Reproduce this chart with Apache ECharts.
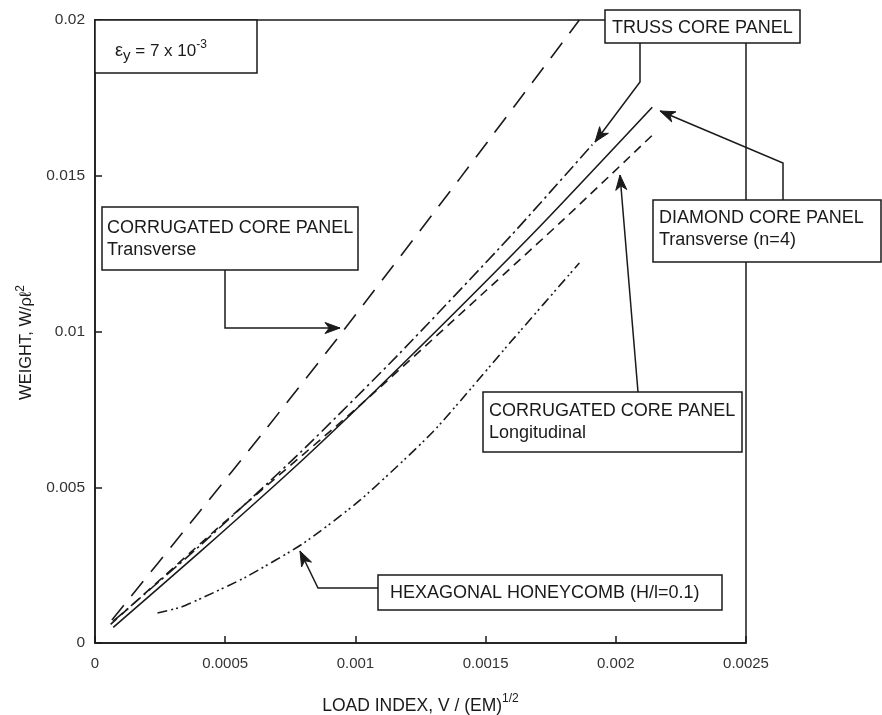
<!DOCTYPE html>
<html>
<head>
<meta charset="utf-8">
<script src="https://cdn.jsdelivr.net/npm/echarts@6/dist/echarts.min.js"></script>
<style>
html,body{margin:0;padding:0;background:#fff;}
#chart{width:882px;height:715px;}
</style>
</head>
<body>
<div id="chart"></div>
<script>
// ---- data (x = load index, y = weight) ----
const xTicks = [0, 0.0005, 0.001, 0.0015, 0.002, 0.0025];
const yTicks = [0, 0.005, 0.01, 0.015, 0.02];

const corrTransverse = [[0.000065,0.00074],[0.0004,0.0042],[0.00065,0.0068],[0.00094,0.00988],[0.0014,0.0149],[0.00186,0.0200]];
const trussCore = [[0.00007,0.0007],[0.0004,0.0031],[0.00079,0.00613],[0.00117,0.0093],[0.0016,0.0131],[0.00191,0.0160]];
const diamondCore = [[0.00007,0.0005],[0.0004,0.0029],[0.0008,0.0059],[0.00117,0.00886],[0.0017,0.0133],[0.00214,0.0172]];
const corrLongitudinal = [[0.00006,0.0006],[0.0005,0.0039],[0.001,0.0075],[0.0015,0.0113],[0.0018,0.0136],[0.00214,0.0163]];
const honeycomb = [[0.00024,0.00096],[0.00033,0.00115],[0.00042,0.00148],[0.00058,0.00212],[0.0008,0.0032],[0.00102,0.0046],[0.0013,0.0068],[0.0016,0.0097],[0.00186,0.0122]];

const chart = echarts.init(document.getElementById('chart'), null, {renderer:'canvas'});
const FONT = '"Liberation Sans", Arial, Helvetica, sans-serif';
const INK = '#1a1a1a';

function lineSeries(name, data, dash){
  return {
    name: name, type: 'line', data: data, showSymbol: false, smooth: 0.2,
    lineStyle: {color: INK, width: 1.6, type: dash},
    z: 3, silent: true
  };
}

function arrowHead(tip, from){
  const dx = tip[0]-from[0], dy = tip[1]-from[1];
  const len = Math.sqrt(dx*dx+dy*dy);
  const ux = dx/len, uy = dy/len;
  const L = 15, W = 5.5;
  const bx = tip[0]-ux*L, by = tip[1]-uy*L;
  const px = -uy, py = ux;
  return {
    type:'polygon', z: 100,
    shape:{points:[tip,[bx+px*W,by+py*W],[tip[0]-ux*L*0.72,tip[1]-uy*L*0.72],[bx-px*W,by-py*W]]},
    style:{fill: INK, stroke: INK, lineWidth: 1}
  };
}
function pathWithArrow(points){
  const g = [{type:'polyline', z: 100, shape:{points: points}, style:{stroke: INK, lineWidth: 1.5, fill: null}}];
  g.push(arrowHead(points[points.length-1], points[points.length-2]));
  return g;
}
function box(x, y, w, h){
  return {type:'rect', z: 100, shape:{x:x, y:y, width:w, height:h}, style:{fill:'#fff', stroke: INK, lineWidth: 1.5}};
}
function label(x, y, text, size){
  return {type:'text', z: 101, x: x, y: y, style:{text: text, fill: INK, font: size + 'px ' + FONT, textVerticalAlign:'middle', textAlign:'left'}};
}

const graphics = [].concat(
  // epsilon box
  [box(95, 20, 162, 53),
   {type:'text', z:101, x:115, y:51, style:{
     rich:{e:{fontSize:18,fontFamily:FONT,fill:INK}, sub:{fontSize:15,fontFamily:FONT,fill:INK,verticalAlign:'bottom',padding:[10,0,0,0]}, t:{fontSize:17,fontFamily:FONT,fill:INK}, sup:{fontSize:12,fontFamily:FONT,fill:INK,verticalAlign:'top',padding:[0,0,12,0]}},
     text:'{e|ε}{sub|y}{t| = 7 x 10}{sup|-3}', textVerticalAlign:'middle'}}],
  // truss
  pathWithArrow([[640,43],[640,82],[595,142]]),
  [box(605, 10, 195, 33), label(612, 28, 'TRUSS CORE PANEL', 18)],
  // diamond
  pathWithArrow([[783,200],[783,163],[660,111]]),
  [box(653, 200, 228, 62), label(659, 218, 'DIAMOND CORE PANEL', 18), label(659, 240, 'Transverse (n=4)', 18)],
  // corrugated transverse
  pathWithArrow([[225,270],[225,328],[340,328]]),
  [box(102, 207, 256, 63), label(107, 228, 'CORRUGATED CORE PANEL', 18), label(107, 250, 'Transverse', 18)],
  // corrugated longitudinal
  pathWithArrow([[638,392],[620,175]]),
  [box(483, 392, 259, 60), label(489, 411, 'CORRUGATED CORE PANEL', 18), label(489, 433, 'Longitudinal', 18)],
  // honeycomb
  pathWithArrow([[378,588],[318,588],[300,551]]),
  [box(378, 575, 344, 35), label(390, 593, 'HEXAGONAL HONEYCOMB (H/l=0.1)', 18)]
);

const option = {
  backgroundColor: '#fff',
  animation: false,
  grid: {left: 95, right: 136, top: 20, bottom: 72, show: true, borderColor: INK, borderWidth: 1.5, backgroundColor: 'transparent', containLabel: false, outerBoundsMode: 'none'},
  xAxis: {
    type: 'value', min: xTicks[0], max: xTicks[xTicks.length-1], interval: 0.0005,
    name: '{a|LOAD INDEX, V / (EM)}{s|1/2}', nameLocation: 'middle', nameGap: 50,
    nameTextStyle: {rich: {a:{fontSize:17.5, fontFamily:FONT, color:INK}, s:{fontSize:12, fontFamily:FONT, color:INK, verticalAlign:'top', padding:[0,0,14,0]}}},
    axisLine: {show: true, lineStyle: {color: INK, width: 1.5}},
    axisTick: {show: true, inside: true, length: 7, lineStyle: {color: INK, width: 1.5}},
    splitLine: {show: false},
    axisLabel: {fontSize: 15, fontFamily: FONT, color: '#333', margin: 13,
      formatter: function(v){ return xTicks.indexOf(v) >= 0 ? String(Number(v.toFixed(4))) : ''; }}
  },
  yAxis: {
    type: 'value', min: yTicks[0], max: yTicks[yTicks.length-1], interval: 0.005,
    name: '{a|WEIGHT, W/ρℓ}{s|2}', nameLocation: 'middle', nameGap: 54, nameRotate: 90,
    nameTextStyle: {padding: [0, 22, 0, 0], rich: {a:{fontSize:16.5, fontFamily:FONT, color:INK}, s:{fontSize:12, fontFamily:FONT, color:INK, verticalAlign:'top', padding:[0,0,12,0]}}},
    axisLine: {show: true, lineStyle: {color: INK, width: 1.5}},
    axisTick: {show: true, inside: true, length: 7, lineStyle: {color: INK, width: 1.5}},
    splitLine: {show: false},
    axisLabel: {fontSize: 15.5, fontFamily: FONT, color: '#333', margin: 10,
      formatter: function(v){ return yTicks.indexOf(v) >= 0 ? String(Number(v.toFixed(3))) : ''; }}
  },
  series: [
    lineSeries('Corrugated core panel, transverse', corrTransverse, [19, 12]),
    lineSeries('Truss core panel', trussCore, [13, 4, 2.5, 4]),
    lineSeries('Diamond core panel', diamondCore, 'solid'),
    lineSeries('Corrugated core panel, longitudinal', corrLongitudinal, [9, 6]),
    lineSeries('Hexagonal honeycomb', honeycomb, [10, 4, 2, 3, 2, 4])
  ],
  graphic: graphics
};
chart.setOption(option);
</script>
</body>
</html>
